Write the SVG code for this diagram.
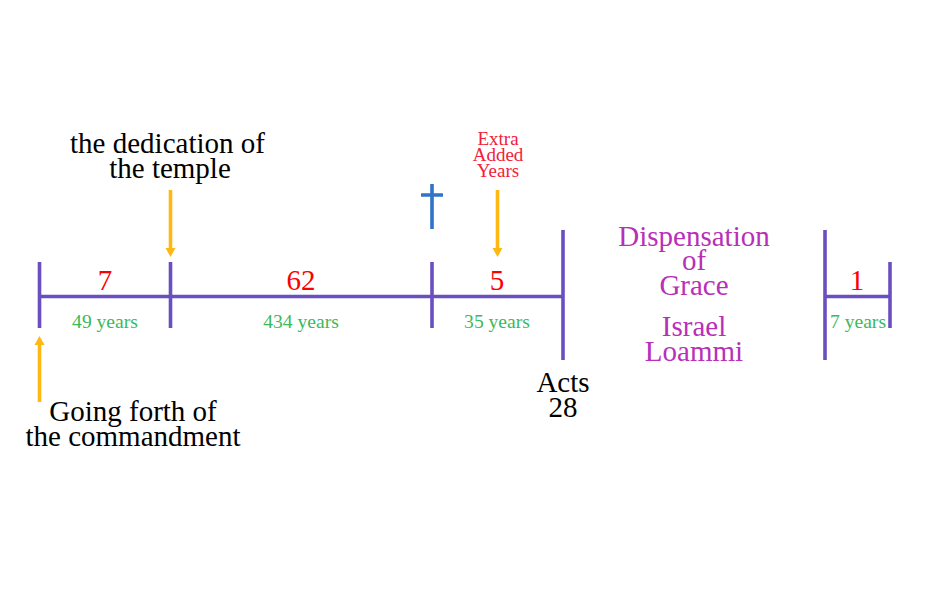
<svg xmlns="http://www.w3.org/2000/svg" width="950" height="600" viewBox="0 0 950 600">
<style>
text{font-family:"Liberation Serif","Times New Roman",serif;text-anchor:middle}
.bar{stroke:#6a4fc0;stroke-width:3.6;fill:none}
.ar{stroke:#fdb813;stroke-width:3.6;fill:none}
.af{fill:#fdb813}
.blk{font-size:29px;fill:#000}
.num{font-size:29px;fill:#f00}
.yr{font-size:19.6px;fill:#3cb95a}
.ex{font-size:19px;fill:#f2203a}
.pur{font-size:29px;fill:#b82fb8}
</style>
<rect width="950" height="600" fill="#fff"/>
<g id="connectors">
<path class="bar" d="M39 296.500H563M825 296.500H890"/>
<path class="ar" d="M39.500 402V344"/><path class="af" d="M34.500 345L39.500 336L44.500 345Z"/>
<path class="ar" d="M170.500 190V249"/><path class="af" d="M165.500 248L170.500 257L175.500 248Z"/>
<path class="ar" d="M497.500 190V249"/><path class="af" d="M492.500 248L497.500 257L502.500 248Z"/>
</g>
<g id="tick-0"><path class="bar" d="M39.500 262V328"/></g>
<g id="tick-1"><path class="bar" d="M170.500 262V328"/></g>
<g id="tick-2"><path class="bar" d="M432 262V328"/></g>
<g id="tick-3"><path class="bar" d="M563 230V360"/></g>
<g id="tick-4"><path class="bar" d="M825 230V360"/></g>
<g id="tick-5"><path class="bar" d="M890 262V328"/></g>
<g id="cross"><path d="M432 184V229M421 195H443" stroke="#2f74c8" stroke-width="3.6" fill="none"/></g>
<g id="dedication"><text class="blk" x="167.500" y="153">the dedication of</text><text class="blk" x="170" y="178">the temple</text></g>
<g id="going-forth"><text class="blk" x="133" y="421">Going forth of</text><text class="blk" x="133" y="446">the commandment</text></g>
<g id="extra"><text class="ex" x="498" y="145">Extra</text><text class="ex" x="498" y="161">Added</text><text class="ex" x="498" y="177">Years</text></g>
<g id="seg-7"><text class="num" x="105" y="289.500">7</text><text class="yr" x="105" y="328">49 years</text></g>
<g id="seg-62"><text class="num" x="301" y="289.500">62</text><text class="yr" x="301" y="328">434 years</text></g>
<g id="seg-5"><text class="num" x="497" y="289.500">5</text><text class="yr" x="497" y="328">35 years</text></g>
<g id="seg-1"><text class="num" x="857" y="289.500">1</text><text class="yr" x="858" y="328">7 years</text></g>
<g id="acts"><text class="blk" x="563" y="392">Acts</text><text class="blk" x="563" y="417">28</text></g>
<g id="grace"><text class="pur" x="694" y="246">Dispensation</text><text class="pur" x="694" y="270">of</text><text class="pur" x="694" y="295">Grace</text></g>
<g id="israel"><text class="pur" x="694" y="336">Israel</text><text class="pur" x="694" y="361">Loammi</text></g>
</svg>
